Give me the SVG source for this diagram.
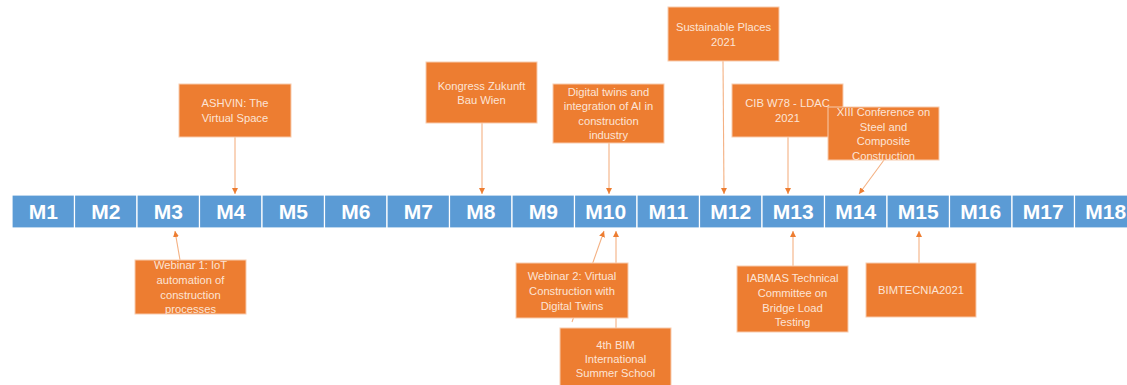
<svg xmlns="http://www.w3.org/2000/svg" width="1127" height="385" viewBox="0 0 1127 385">
<defs>
<marker id="ah" viewBox="0 0 10 10" refX="10" refY="5" markerWidth="6" markerHeight="6" markerUnits="userSpaceOnUse" orient="auto">
<path d="M0,0 L10,5 L0,10 z" fill="#ED7D31"/>
</marker>
<style>
.m rect{fill:#5B9BD5;stroke:#FFFFFF;stroke-width:1.2}
.m text{font-family:"Liberation Sans",Arial,sans-serif;font-weight:bold;font-size:21px;fill:#FFFFFF;text-anchor:middle}
.ev rect{fill:#ED7D31;stroke:#F8CBAD;stroke-width:1}
.ev text{font-family:"Liberation Sans",Arial,sans-serif;font-size:11.2px;fill:#FCE4D6;text-anchor:middle}
.c line{stroke:#F4B183;stroke-width:1.1;marker-end:url(#ah)}
</style>
</defs>
<rect width="1127" height="385" fill="#FFFFFF"/>
<g id="timeline" class="m">
<g id="M1"><rect x="12" y="195" width="62.5" height="33"/><text x="43.25" y="219">M1</text></g>
<g id="M2"><rect x="74.5" y="195" width="62.5" height="33"/><text x="105.75" y="219">M2</text></g>
<g id="M3"><rect x="137" y="195" width="62.5" height="33"/><text x="168.25" y="219">M3</text></g>
<g id="M4"><rect x="199.5" y="195" width="62.5" height="33"/><text x="230.75" y="219">M4</text></g>
<g id="M5"><rect x="262" y="195" width="62.5" height="33"/><text x="293.25" y="219">M5</text></g>
<g id="M6"><rect x="324.5" y="195" width="62.5" height="33"/><text x="355.75" y="219">M6</text></g>
<g id="M7"><rect x="387" y="195" width="62.5" height="33"/><text x="418.25" y="219">M7</text></g>
<g id="M8"><rect x="449.5" y="195" width="62.5" height="33"/><text x="480.75" y="219">M8</text></g>
<g id="M9"><rect x="512" y="195" width="62.5" height="33"/><text x="543.25" y="219">M9</text></g>
<g id="M10"><rect x="574.5" y="195" width="62.5" height="33"/><text x="605.75" y="219">M10</text></g>
<g id="M11"><rect x="637" y="195" width="62.5" height="33"/><text x="668.25" y="219">M11</text></g>
<g id="M12"><rect x="699.5" y="195" width="62.5" height="33"/><text x="730.75" y="219">M12</text></g>
<g id="M13"><rect x="762" y="195" width="62.5" height="33"/><text x="793.25" y="219">M13</text></g>
<g id="M14"><rect x="824.5" y="195" width="62.5" height="33"/><text x="855.75" y="219">M14</text></g>
<g id="M15"><rect x="887" y="195" width="62.5" height="33"/><text x="918.25" y="219">M15</text></g>
<g id="M16"><rect x="949.5" y="195" width="62.5" height="33"/><text x="980.75" y="219">M16</text></g>
<g id="M17"><rect x="1012" y="195" width="62.5" height="33"/><text x="1043.25" y="219">M17</text></g>
<g id="M18"><rect x="1074.5" y="195" width="62.5" height="33"/><text x="1105.75" y="219">M18</text></g>
</g>
<g id="connectors" class="c">
<line x1="180" y1="260" x2="175" y2="231"/>
<line x1="235" y1="137" x2="235" y2="194"/>
<line x1="482" y1="123" x2="482" y2="194"/>
<line x1="609" y1="143" x2="609" y2="194"/>
<line x1="723" y1="61" x2="724" y2="194"/>
<line x1="788" y1="137" x2="788" y2="194"/>
<line x1="884" y1="160" x2="859" y2="194"/>
<line x1="572" y1="322" x2="604" y2="231"/>
<line x1="616" y1="328" x2="616" y2="231"/>
<line x1="793" y1="266" x2="793" y2="231"/>
<line x1="919" y1="263" x2="919" y2="231"/>
</g>
<g id="webinar1" class="ev"><rect x="135" y="260" width="111" height="54"/>
<text x="190.5" y="269">Webinar 1: IoT</text><text x="190.5" y="284">automation of</text><text x="190.5" y="299">construction</text><text x="190.5" y="313">processes</text></g>
<g id="ashvin" class="ev"><rect x="179" y="84" width="112" height="53"/>
<text x="235" y="107">ASHVIN: The</text><text x="235" y="122">Virtual Space</text></g>
<g id="kongress" class="ev"><rect x="426" y="62" width="111" height="61"/>
<text x="481.5" y="90">Kongress Zukunft</text><text x="481.5" y="104">Bau Wien</text></g>
<g id="digitaltwins" class="ev"><rect x="553" y="84" width="111" height="59"/>
<text x="608.5" y="96">Digital twins and</text><text x="608.5" y="110">integration of AI in</text><text x="608.5" y="125">construction</text><text x="608.5" y="139">industry</text></g>
<g id="sustainable" class="ev"><rect x="668" y="7" width="111" height="54"/>
<text x="723.5" y="31">Sustainable Places</text><text x="723.5" y="46">2021</text></g>
<g id="cib" class="ev"><rect x="732" y="84" width="111" height="53"/>
<text x="787.5" y="107">CIB W78 - LDAC</text><text x="787.5" y="122">2021</text></g>
<g id="xiii" class="ev"><rect x="828" y="107" width="111" height="53"/>
<text x="883.5" y="116">XIII Conference  on</text><text x="883.5" y="131">Steel and</text><text x="883.5" y="145">Composite</text><text x="883.5" y="160">Construction</text></g>
<g id="webinar2" class="ev"><rect x="516" y="263" width="112" height="55"/>
<text x="572" y="280">Webinar 2: Virtual</text><text x="572" y="295">Construction with</text><text x="572" y="310">Digital Twins</text></g>
<g id="bim" class="ev"><rect x="560" y="328" width="111" height="60"/>
<text x="615.5" y="349">4th BIM</text><text x="615.5" y="363">International</text><text x="615.5" y="377">Summer School</text></g>
<g id="iabmas" class="ev"><rect x="737" y="266" width="111" height="66"/>
<text x="792.5" y="282">IABMAS Technical</text><text x="792.5" y="297">Committee on</text><text x="792.5" y="312">Bridge Load</text><text x="792.5" y="326">Testing</text></g>
<g id="bimtecnia" class="ev"><rect x="866" y="263" width="110" height="54"/>
<text x="921" y="294">BIMTECNIA2021</text></g>
</svg>
